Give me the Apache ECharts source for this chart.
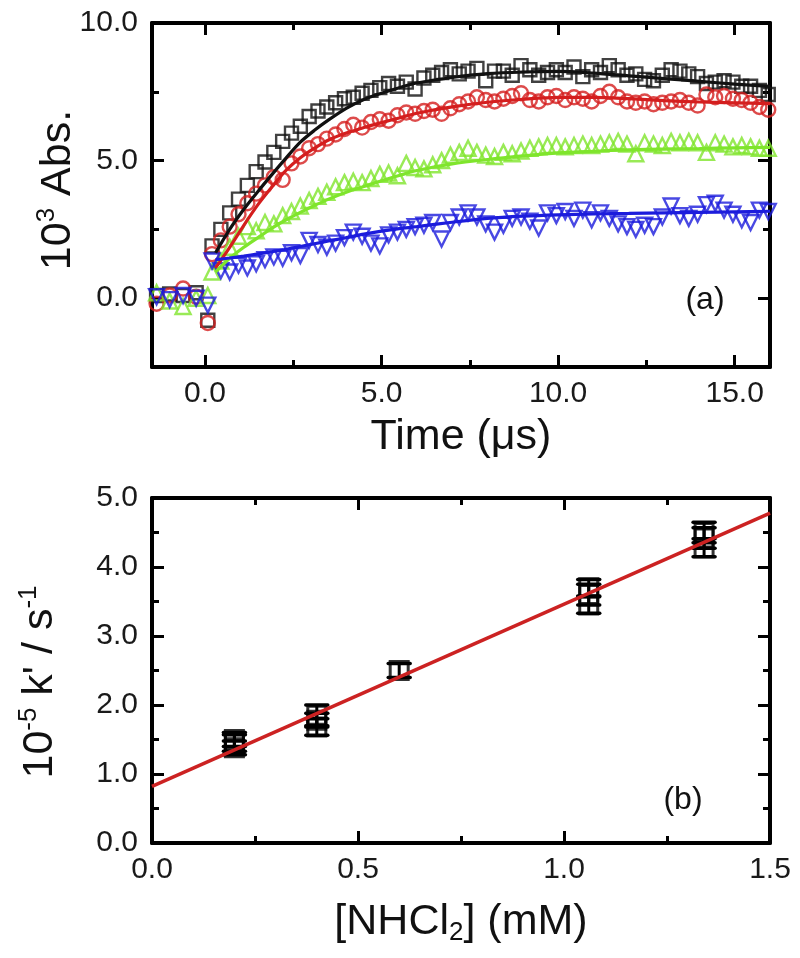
<!DOCTYPE html>
<html><head><meta charset="utf-8">
<script src="https://cdn.jsdelivr.net/npm/echarts@6/dist/echarts.min.js"></script>
<style>html,body{margin:0;padding:0;background:#fff}#c{width:800px;height:958px}</style>
</head><body><div id="c"></div>
<script>
// ---------- Panel (a): transient absorption ----------
const T_PRE = [-1.37, -1.0, -0.62, -0.25, 0.08];
const BLACK_PRE = [0.1, 0.15, 0.1, 0.2, -0.8];
const RED_PRE = [-0.2, 0.1, 0.35, 0.05, -0.9];
const GREEN_PRE = [0.2, -0.1, -0.3, 0.0, 0.1];
const BLUE_PRE = [0.05, -0.05, 0.1, 0.0, -0.25];

const T = [0.2,0.45,0.7,0.95,1.2,1.45,1.7,1.95,2.2,2.45,
  2.7,2.95,3.2,3.45,3.7,3.95,4.2,4.45,4.7,4.95,
  5.2,5.45,5.7,5.95,6.2,6.45,6.7,6.95,7.2,7.45,
  7.7,7.95,8.2,8.45,8.7,8.95,9.2,9.45,9.7,9.95,
  10.2,10.45,10.7,10.95,11.2,11.45,11.7,11.95,12.2,12.45,
  12.7,12.95,13.2,13.45,13.7,13.95,14.2,14.45,14.7,14.95,
  15.2,15.45,15.7,15.95];
const BLACK = [1.9,2.5,3.1,3.6,4.1,4.6,4.95,5.3,5.7,6.0,
  6.25,6.6,6.8,6.95,7.1,7.25,7.3,7.45,7.55,7.65,
  7.8,7.7,7.85,7.6,8.0,8.1,8.2,8.3,8.15,8.25,
  8.35,7.9,8.25,8.25,8.1,8.45,8.3,8.1,8.2,8.3,
  8.2,8.4,8.05,8.3,8.2,8.45,8.3,8.1,8.15,7.95,
  7.9,8.1,8.3,8.25,8.15,8.05,7.8,7.85,7.9,7.85,
  7.7,7.7,7.55,7.4];
const RED = [1.6,2.1,2.6,3.05,3.45,3.8,4.1,4.4,4.3,4.9,
  5.15,5.45,5.6,5.8,5.95,6.15,6.3,6.2,6.4,6.5,
  6.45,6.65,6.75,6.7,6.8,6.85,6.7,6.9,7.05,7.15,
  7.3,7.2,7.15,7.25,7.35,7.45,7.2,7.15,7.3,7.35,
  7.2,7.3,7.25,7.15,7.35,7.5,7.3,7.15,7.1,7.15,
  7.05,7.1,7.15,7.2,7.1,7.0,7.4,7.3,7.35,7.25,
  7.2,7.1,6.95,6.85];
const GREEN = [0.95,1.35,1.85,2.25,2.6,2.45,2.75,2.7,3.0,3.15,
  3.35,3.55,3.7,3.85,4.05,4.2,4.25,4.2,4.35,4.5,
  4.55,4.45,4.9,4.75,4.7,4.85,5.0,5.2,5.3,5.45,
  5.3,5.2,5.15,5.3,5.25,5.35,5.45,5.5,5.55,5.55,
  5.5,5.55,5.6,5.55,5.6,5.65,5.7,5.6,5.25,5.65,
  5.6,5.55,5.7,5.65,5.7,5.65,5.3,5.65,5.6,5.5,
  5.55,5.5,5.45,5.45];
const BLUE = [1.35,1.0,0.95,1.2,1.1,1.25,1.4,1.5,1.45,1.65,
  1.55,2.1,1.95,1.85,2.0,2.2,2.4,2.25,2.0,1.9,
  2.3,2.4,2.5,2.6,2.65,2.75,2.15,2.75,2.95,3.1,
  2.95,2.7,2.4,2.65,2.9,2.95,2.8,2.55,3.1,3.0,
  3.15,2.9,3.2,2.85,3.1,2.9,2.7,2.6,2.5,2.65,
  2.6,2.95,3.35,3.0,2.9,3.05,3.4,3.45,3.2,3.05,
  2.85,2.75,3.2,3.15];

const FIT_T = [0.3,0.7,1.1,1.5,1.9,2.3,2.7,3.1,3.5,4.0,4.5,5.0,5.5,6.0,7.0,8.0,9.0,10.0,11.0,12.0,13.0,14.0,15.0,16.0];
const FIT_BLACK = [1.65,2.5,3.23,3.88,4.5,5.1,5.67,6.1,6.48,6.9,7.22,7.45,7.65,7.82,8.02,8.16,8.22,8.24,8.18,8.08,7.98,7.88,7.78,7.7];
const FIT_RED = [1.1,1.85,2.65,3.4,4.05,4.65,5.1,5.45,5.75,6.0,6.2,6.38,6.55,6.72,6.95,7.12,7.23,7.3,7.3,7.25,7.18,7.13,7.1,7.07];
const FIT_GREEN = [0.95,1.45,1.85,2.2,2.55,2.85,3.12,3.37,3.6,3.85,4.06,4.27,4.46,4.64,4.88,5.04,5.17,5.28,5.34,5.39,5.42,5.44,5.46,5.48];
const FIT_BLUE = [1.4,1.46,1.53,1.61,1.69,1.78,1.88,1.98,2.08,2.2,2.33,2.44,2.53,2.6,2.76,2.9,2.98,3.03,3.06,3.08,3.1,3.12,3.14,3.16];

const A_X_MAJOR = [0, 5, 10, 15];
const A_X_MINOR = [2.5, 7.5, 12.5];
const A_Y_MAJOR = [0, 5, 10];
const A_Y_MINOR = [-2.5, 2.5, 7.5];

// ---------- Panel (b): k' vs [NHCl2] ----------
const K_X = [0.2,0.2,0.2, 0.4,0.4,0.4, 0.6, 1.06,1.06,1.06, 1.34,1.34,1.34];
const K_Y = [1.38,1.45,1.5, 1.68,1.78,1.85, 2.5, 3.45,3.6,3.7, 4.28,4.42,4.5];
const K_ERR = [0.1,0.12,0.1, 0.12,0.1,0.15, 0.1, 0.12,0.15,0.12, 0.13,0.15,0.15];
const LIN_X = [0, 1.5];
const LIN_Y = [0.82, 4.78];

const FONT = "'Liberation Sans', Arial, sans-serif";
const C_BLACK = '#111111', C_RED = '#d41e1e', C_GREEN = '#7fe52c', C_BLUE = '#1c1cdc';

const zip = (xs, ys) => xs.map((x, i) => [x, ys[i]]);
const fmt1 = v => Number(v).toFixed(1);
const tickStyle = {color: '#000', width: 3};

function axisPair(kind, grid, min, max, pos, major, minor, showLabels) {
  const base = {gridIndex: grid, type: 'value', min, max, position: pos, splitLine: {show: false}, scale: false};
  return [
    Object.assign({}, base, {
      axisLine: {show: true, onZero: false, lineStyle: {color: '#000', width: 4}},
      axisTick: {show: true, inside: true, length: 12, customValues: major, lineStyle: tickStyle},
      axisLabel: showLabels ? {show: true, customValues: major, formatter: fmt1, fontSize: 30, color: '#1a1a1a', fontFamily: FONT, margin: kind === 'x' ? 12 : 14} : {show: false}
    }),
    Object.assign({}, base, {
      axisLine: {show: false, onZero: false},
      axisTick: {show: true, inside: true, length: 7, customValues: minor, lineStyle: tickStyle},
      axisLabel: {show: false}
    })
  ];
}

const xAxes = [].concat(
  axisPair('x', 0, -1.5, 16, 'bottom', A_X_MAJOR, A_X_MINOR, true),   // 0,1
  axisPair('x', 0, -1.5, 16, 'top', A_X_MAJOR, A_X_MINOR, false),     // 2,3
  [
    {gridIndex: 1, type: 'value', min: 0, max: 1.5, interval: 0.5, position: 'bottom', splitLine: {show: false},
     axisLine: {show: true, onZero: false, lineStyle: {color: '#000', width: 4}},
     axisTick: {show: true, inside: true, length: 12, lineStyle: tickStyle},
     minorTick: {show: true, splitNumber: 2, length: 7, lineStyle: tickStyle},
     axisLabel: {formatter: fmt1, fontSize: 30, color: '#1a1a1a', fontFamily: FONT, margin: 12, showMinLabel: true, showMaxLabel: true}}, // 4
    {gridIndex: 1, type: 'value', min: 0, max: 1.5, interval: 0.5, position: 'top', splitLine: {show: false},
     axisLine: {show: true, onZero: false, lineStyle: {color: '#000', width: 4}},
     axisTick: {show: true, inside: true, length: 12, lineStyle: tickStyle},
     minorTick: {show: true, splitNumber: 2, length: 7, lineStyle: tickStyle},
     axisLabel: {show: false}} // 5
  ]
);
const yAxes = [].concat(
  axisPair('y', 0, -2.5, 10, 'left', A_Y_MAJOR, A_Y_MINOR, true),   // 0,1
  axisPair('y', 0, -2.5, 10, 'right', A_Y_MAJOR, A_Y_MINOR, false), // 2,3
  [
    {gridIndex: 1, type: 'value', min: 0, max: 5, interval: 1, position: 'left', splitLine: {show: false},
     axisLine: {show: true, onZero: false, lineStyle: {color: '#000', width: 4}},
     axisTick: {show: true, inside: true, length: 12, lineStyle: tickStyle},
     minorTick: {show: true, splitNumber: 2, length: 7, lineStyle: tickStyle},
     axisLabel: {formatter: fmt1, fontSize: 30, color: '#1a1a1a', fontFamily: FONT, margin: 14}}, // 4
    {gridIndex: 1, type: 'value', min: 0, max: 5, interval: 1, position: 'right', splitLine: {show: false},
     axisLine: {show: true, onZero: false, lineStyle: {color: '#000', width: 4}},
     axisTick: {show: true, inside: true, length: 12, lineStyle: tickStyle},
     minorTick: {show: true, splitNumber: 2, length: 7, lineStyle: tickStyle},
     axisLabel: {show: false}} // 5
  ]
);

function scat(name, xs, ys, symbol, color, size, rotate) {
  return {type: 'scatter', name, xAxisIndex: 0, yAxisIndex: 0, data: zip(xs, ys), symbol, symbolSize: size,
    symbolRotate: rotate || 0, clip: false,
    itemStyle: {color: 'rgba(0,0,0,0)', borderColor: color, borderWidth: 2.4}, z: 2, silent: true};
}
function fitLine(ys, color) {
  return {type: 'line', xAxisIndex: 0, yAxisIndex: 0, data: zip(FIT_T, ys), smooth: 0.3, showSymbol: false,
    lineStyle: {color, width: 3.2}, z: 3, silent: true};
}

const series = [
  scat('black', T_PRE.concat(T), BLACK_PRE.concat(BLACK), 'rect', C_BLACK, 13),
  scat('red', T_PRE.concat(T), RED_PRE.concat(RED), 'circle', C_RED, 14),
  scat('green', T_PRE.concat(T), GREEN_PRE.concat(GREEN), 'triangle', C_GREEN, 15),
  scat('blue', T_PRE.concat(T), BLUE_PRE.concat(BLUE), 'triangle', C_BLUE, 15, 180),
  fitLine(FIT_BLACK, C_BLACK),
  fitLine(FIT_RED, C_RED),
  fitLine(FIT_GREEN, C_GREEN),
  fitLine(FIT_BLUE, C_BLUE),
  {type: 'custom', xAxisIndex: 4, yAxisIndex: 4, silent: true, z: 2,
   data: K_X.map((x, i) => [x, K_Y[i], K_ERR[i]]),
   renderItem: function (params, api) {
     const x = api.value(0), y = api.value(1), e = api.value(2);
     const top = api.coord([x, y + e]), bot = api.coord([x, y - e]);
     const w = 11;
     const st = {stroke: '#000', lineWidth: 3.5, lineCap: 'round'};
     return {type: 'group', children: [
       {type: 'line', shape: {x1: top[0], y1: top[1], x2: bot[0], y2: bot[1]}, style: {stroke: '#000', lineWidth: 3}},
       {type: 'line', shape: {x1: top[0] - w, y1: top[1], x2: top[0] + w, y2: top[1]}, style: st},
       {type: 'line', shape: {x1: bot[0] - w, y1: bot[1], x2: bot[0] + w, y2: bot[1]}, style: st}
     ]};
   }},
  {type: 'scatter', xAxisIndex: 4, yAxisIndex: 4, data: zip(K_X, K_Y), symbol: 'rect', symbolSize: 18, silent: true,
   itemStyle: {color: 'rgba(0,0,0,0)', borderColor: '#000', borderWidth: 3}, z: 3},
  {type: 'line', xAxisIndex: 4, yAxisIndex: 4, data: zip(LIN_X, LIN_Y), showSymbol: false, silent: true,
   lineStyle: {color: '#cc2222', width: 3.5}, z: 4}
];

const txt = {fontFamily: FONT, fill: '#111'};
const graphic = [
  {type: 'text', x: 58, y: 190, rotation: Math.PI / 2, style: Object.assign({}, txt, {
    text: '{n|10}{s|3}{n| Abs.}', align: 'center', verticalAlign: 'middle',
    rich: {n: {fontSize: 43, fontFamily: FONT, lineHeight: 48}, s: {fontSize: 26, fontFamily: FONT, verticalAlign: 'top', lineHeight: 26}}})},
  {type: 'text', x: 461, y: 437, style: Object.assign({}, txt, {text: 'Time (\u03bcs)', fontSize: 43, align: 'center', verticalAlign: 'middle'})},
  {type: 'text', x: 705, y: 300, style: Object.assign({}, txt, {text: '(a)', fontSize: 32, align: 'center', verticalAlign: 'middle'})},
  {type: 'text', x: 40, y: 682, rotation: Math.PI / 2, style: Object.assign({}, txt, {
    text: "{n|10}{s|-5}{n| k' / s}{s|-1}", align: 'center', verticalAlign: 'middle',
    rich: {n: {fontSize: 43, fontFamily: FONT, lineHeight: 48}, s: {fontSize: 26, fontFamily: FONT, verticalAlign: 'top', lineHeight: 26}}})},
  {type: 'text', x: 461, y: 922, style: Object.assign({}, txt, {
    text: '{n|[NHCl}{b|2}{n|] (mM)}', align: 'center', verticalAlign: 'middle',
    rich: {n: {fontSize: 43, fontFamily: FONT, lineHeight: 48}, b: {fontSize: 26, fontFamily: FONT, verticalAlign: 'bottom', lineHeight: 26}}})},
  {type: 'text', x: 683, y: 800, style: Object.assign({}, txt, {text: '(b)', fontSize: 32, align: 'center', verticalAlign: 'middle'})}
];

const chart = echarts.init(document.getElementById('c'), null, {renderer: 'canvas'});
chart.setOption({
  backgroundColor: '#fff',
  animation: false,
  grid: [
    {left: 152, top: 23, width: 618, height: 344},
    {left: 152, top: 498, width: 618, height: 345}
  ],
  xAxis: xAxes,
  yAxis: yAxes,
  series,
  graphic
});
</script></body></html>
